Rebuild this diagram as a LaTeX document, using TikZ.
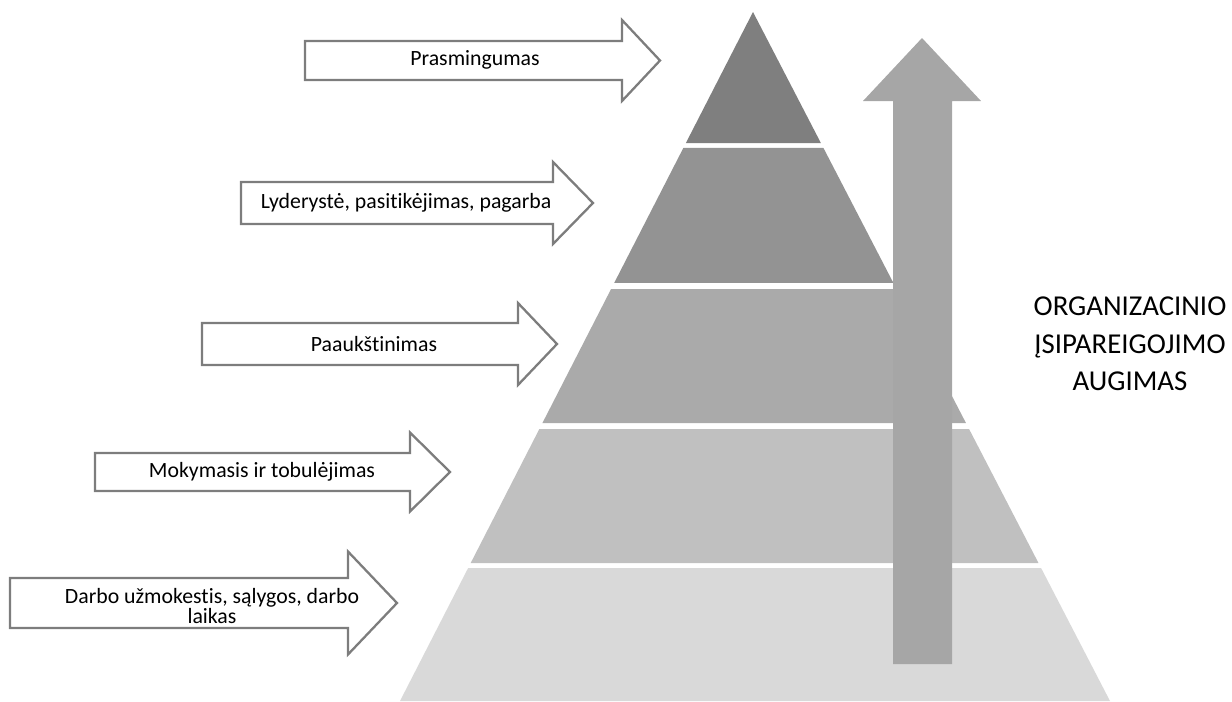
\documentclass[tikz,border=0pt]{standalone}
\usepackage{fontspec}
\setmainfont{Carlito}[Ligatures=NoCommon]
\usetikzlibrary{calc}

\definecolor{layerA}{RGB}{127,127,127}
\definecolor{layerB}{RGB}{147,147,147}
\definecolor{layerC}{RGB}{170,170,170}
\definecolor{layerD}{RGB}{192,192,192}
\definecolor{layerE}{RGB}{217,217,217}
\definecolor{growth}{RGB}{166,166,166}
\definecolor{outline}{RGB}{125,125,125}

% hollow block arrow: x left, x head, x tip, y centre, half body, half head
\newcommand{\blockarrow}[6]{%
	\draw[outline, line width=1.3pt, fill=white]
		(#1,#4-#5) -- (#2,#4-#5) -- (#2,#4-#6) -- (#3,#4)
		-- (#2,#4+#6) -- (#2,#4+#5) -- (#1,#4+#5) -- cycle;}

\begin{document}
\begin{tikzpicture}[x=0.02cm, y=-0.02cm,
	label/.style={font=\fontsize{12.4}{10.5}\selectfont, align=center, inner sep=0pt},
	bigtext/.style={font=\fontsize{16.4}{21.3}\selectfont, align=center, inner sep=0pt}]
	\useasboundingbox (0,0) rectangle (1232,701);

	\coordinate (apex) at (753,12);
	\coordinate (bl) at (400,701);
	\coordinate (br) at (1110,701);

	% pyramid layers
	\foreach \ya/\yb/\col in {12/143/layerA, 148/283/layerB, 289/423/layerC, 429/563/layerD, 568/701/layerE}{
		\pgfmathsetmacro\ta{(\ya-12)/689}
		\pgfmathsetmacro\tb{(\yb-12)/689}
		\fill[\col] ($(apex)!\ta!(bl)$) -- ($(apex)!\ta!(br)$) -- ($(apex)!\tb!(br)$) -- ($(apex)!\tb!(bl)$) -- cycle;
	}

	% growth arrow
	\fill[growth] (893,664) -- (893,101) -- (863,101) -- (922,38) -- (981,101) -- (952,101) -- (952,664) -- cycle;

	% left arrows
	\blockarrow{305}{622}{660}{60.5}{19.5}{40.5}
	\blockarrow{241}{553}{593}{203}{21}{41}
	\blockarrow{202}{518}{557}{344}{21}{41}
	\blockarrow{95}{410}{450}{472}{19}{39.5}
	\blockarrow{10}{348}{397}{603}{25}{51.5}

	\node[label] (prasm) at (475,60) {Prasmingumas};
	\node[label] (lyder) at (406,203) {Lyderystė, pasitikėjimas, pagarba};
	\node[label] (paauk) at (374,344) {Paaukštinimas};
	\node[label] (mokym) at (262,472) {Mokymasis ir tobulėjimas};
	\node[label] (darbo) at (212,606) {Darbo užmokestis, sąlygos, darbo\\laikas};

	\node[bigtext] (augimas) at (1130,344) {ORGANIZACINIO\\ĮSIPAREIGOJIMO\\AUGIMAS};
\end{tikzpicture}
\end{document}
